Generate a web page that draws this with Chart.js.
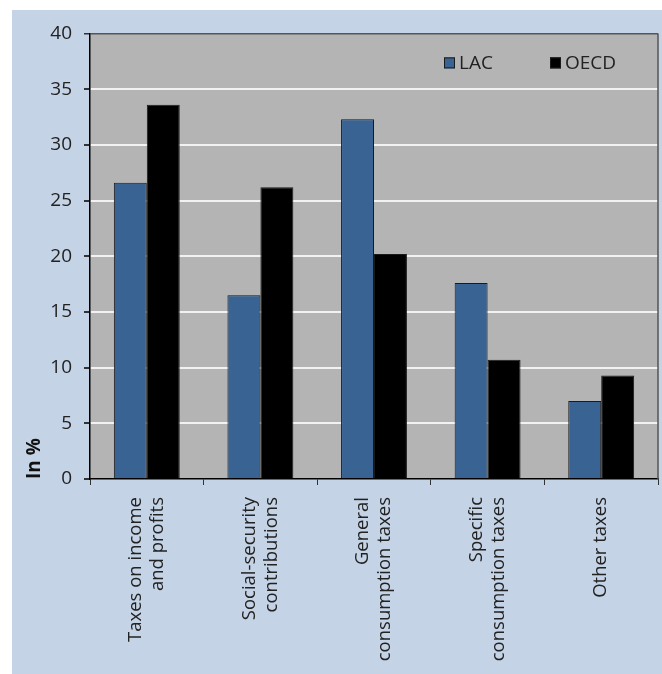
<!DOCTYPE html>
<html>
<head>
<meta charset="utf-8">
<script src="https://cdn.jsdelivr.net/npm/chart.js@4/dist/chart.umd.min.js"></script>
<style>
  html, body { margin: 0; padding: 0; background: #ffffff; }
  #wrap { position: absolute; left: 12px; top: 10px; width: 650px; height: 664px; background: #c5d3e6; }
</style>
</head>
<body>
<div id="wrap"><canvas id="chart" width="650" height="664"></canvas></div>
<script>
const categories = [
    ['Taxes on income', 'and profits'],
    ['Social-security', 'contributions'],
    ['General', 'consumption taxes'],
    ['Specific', 'consumption taxes'],
    'Other taxes',
]
const lacValues = [26.6, 16.5, 32.3, 17.6, 7.0]
const oecdValues = [33.6, 26.2, 20.2, 10.7, 9.3]
const yTicks = [0, 5, 10, 15, 20, 25, 30, 35, 40]

const FONT = '"Open Sans", "Noto Sans", sans-serif'
const TEXT = '#222222'

// gray plot area plus the dark right-hand frame line
const plotBackground = {
    id: 'plotBackground',
    beforeDraw(chart) {
        const { ctx, chartArea: a } = chart
        ctx.save()
        ctx.fillStyle = '#b4b4b4'
        ctx.fillRect(a.left, a.top, a.right - a.left, a.bottom - a.top)
        ctx.restore()
    },
    afterDraw(chart) {
        const { ctx, chartArea: a } = chart
        ctx.save()
        ctx.strokeStyle = '#555555'
        ctx.lineWidth = 1.5
        ctx.beginPath()
        ctx.moveTo(a.right, a.top)
        ctx.lineTo(a.right, a.bottom)
        ctx.stroke()
        ctx.restore()
    },
}

// rotated two-line labels: centre the block of lines on the tick
const centerRotatedLines = {
    id: 'centerRotatedLines',
    beforeDraw(chart) {
        const scale = chart.scales.x
        scale.getLabelItems().forEach((item) => {
            if (Array.isArray(item.label) && item.label.length > 1) {
                item.textOffset -= (item.label.length - 1) * item.font.lineHeight / 2
            }
        })
    },
}

// legend sitting inside the plot, top right
const innerLegend = {
    id: 'innerLegend',
    afterDraw(chart, args, opts) {
        const { ctx, chartArea: a } = chart
        ctx.save()
        ctx.font = `19px ${FONT}`
        ctx.textBaseline = 'middle'
        chart.data.datasets.forEach((ds, i) => {
            const x = a.right - opts.offsets[i]
            const y = a.top + opts.top
            ctx.fillStyle = ds.backgroundColor
            ctx.fillRect(x, y, 11, 11)
            ctx.strokeStyle = '#1a1a1a'
            ctx.lineWidth = 1
            ctx.strokeRect(x + 0.5, y + 0.5, 10, 10)
            ctx.fillStyle = TEXT
            ctx.fillText(ds.label, x + 15, y + 6)
        })
        ctx.restore()
    },
}

new Chart(document.getElementById('chart'), {
    type: 'bar',
    data: {
        labels: categories,
        datasets: [
            {
                label: 'LAC',
                data: lacValues,
                backgroundColor: '#386393',
                borderColor: '#1a1a1a',
                borderWidth: 1,
            },
            {
                label: 'OECD',
                data: oecdValues,
                backgroundColor: '#000000',
                borderColor: '#1a1a1a',
                borderWidth: 1,
            },
        ],
    },
    plugins: [plotBackground, centerRotatedLines, innerLegend],
    options: {
        responsive: false,
        animation: false,
        devicePixelRatio: 1,
        datasets: {
            bar: {
                categoryPercentage: 0.58,
                barPercentage: 1.0,
            },
        },
        layout: {
            padding: { left: 0, top: 23, right: 4, bottom: 0 },
        },
        plugins: {
            legend: { display: false },
            tooltip: { enabled: false },
            innerLegend: { top: 24, offsets: [214, 108] },
        },
        scales: {
            x: {
                offset: true,
                grid: {
                    offset: true,
                    drawOnChartArea: false,
                    drawTicks: true,
                    tickLength: 6,
                    tickColor: '#333333',
                },
                border: { color: '#000000', width: 1.5 },
                ticks: {
                    minRotation: 90,
                    maxRotation: 90,
                    padding: 12,
                    color: TEXT,
                    font: { family: FONT, size: 18.5 },
                },
                afterFit(scale) {
                    scale.height = 195
                },
            },
            y: {
                min: 0,
                max: 40,
                afterBuildTicks(scale) {
                    scale.ticks = yTicks.map((v) => ({ value: v }))
                },
                grid: {
                    color: (c) => {
                        if (c.tick && c.tick.value === 40) return '#555555'
                        if (c.tick && c.tick.value === 0) return 'rgba(0,0,0,0)'
                        return '#f2f2f2'
                    },
                    lineWidth: (c) => (c.tick && c.tick.value === 40 ? 1.5 : 2),
                    tickLength: 6,
                    tickColor: '#333333',
                },
                border: { color: '#000000', width: 1.5 },
                ticks: {
                    padding: 12,
                    color: TEXT,
                    font: { family: FONT, size: 19 },
                },
                title: {
                    display: true,
                    text: 'In %',
                    align: 'start',
                    color: '#111111',
                    padding: { top: 11, bottom: 0 },
                    font: { family: FONT, size: 19, weight: 'bold' },
                },
                afterFit(scale) {
                    scale.width = 78
                },
            },
        },
    },
})
</script>
</body>
</html>
